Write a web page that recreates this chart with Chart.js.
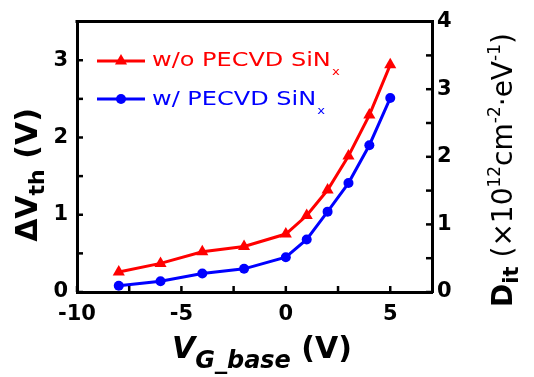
<!DOCTYPE html>
<html><head><meta charset="utf-8">
<script src="https://cdn.jsdelivr.net/npm/chart.js@4.4.0/dist/chart.umd.min.js"></script>
<style>html,body{margin:0;padding:0;background:#fff;overflow:hidden}#wrap{width:534px;height:377px}</style>
</head><body><div id="wrap"><canvas id="c" width="534" height="377"></canvas></div>
<script>
// ---- data ----
const vgBase = [-8, -6, -4, -2, 0, 1, 2, 3, 4, 5];
const dVthWithout = [0.26, 0.37, 0.52, 0.59, 0.75, 0.99, 1.32, 1.76, 2.29, 2.94];
const dVthWith = [0.08, 0.14, 0.24, 0.30, 0.45, 0.68, 1.04, 1.41, 1.90, 2.51];
const seriesNames = ['w/o PECVD SiN', 'w/ PECVD SiN'];
const xTicks = [-10, -5, 0, 5];
const xTickMarks = [-10, -7.5, -5, -2.5, 0, 2.5, 5];
const yTicks = [0, 1, 2, 3];
const yTickMarks = [0, 0.5, 1, 1.5, 2, 2.5, 3, 3.5];
const y2Ticks = [0, 1, 2, 3, 4];
const y2TickMarks = [0, 0.5, 1, 1.5, 2, 2.5, 3, 3.5, 4];

const RED = '#ff0000', BLUE = '#0000ff';
const tickFont = {family: 'DejaVu Sans', size: 21, weight: 'bold'};

function toXY(xs, ys) { return xs.map((x, i) => ({x: x, y: ys[i]})); }

const overlay = {
  id: 'overlay',
  afterDraw(chart) {
    const ctx = chart.ctx, ca = chart.chartArea;
    const sx = chart.scales.x, sy = chart.scales.y, sy2 = chart.scales.y2;
    ctx.save();
    // top frame line
    ctx.strokeStyle = '#000'; ctx.lineWidth = 3;
    ctx.beginPath(); ctx.moveTo(ca.left - 1.5, ca.top); ctx.lineTo(ca.right + 1.5, ca.top); ctx.stroke();
    // inward ticks
    ctx.lineWidth = 2.5;
    const L = 6;
    xTickMarks.forEach(v => { const p = sx.getPixelForValue(v); ctx.beginPath(); ctx.moveTo(p, ca.bottom); ctx.lineTo(p, ca.bottom - L); ctx.stroke(); });
    yTickMarks.forEach(v => { const p = sy.getPixelForValue(v); ctx.beginPath(); ctx.moveTo(ca.left, p); ctx.lineTo(ca.left + L, p); ctx.stroke(); });
    y2TickMarks.forEach(v => { const p = sy2.getPixelForValue(v); ctx.beginPath(); ctx.moveTo(ca.right, p); ctx.lineTo(ca.right - L, p); ctx.stroke(); });

    // legend
    const legend = [
      {name: seriesNames[0], color: RED, style: 'triangle', y: 61, ty: 66},
      {name: seriesNames[1], color: BLUE, style: 'circle', y: 99, ty: 105}
    ];
    legend.forEach(it => {
      ctx.strokeStyle = it.color; ctx.fillStyle = it.color; ctx.lineWidth = 3;
      ctx.beginPath(); ctx.moveTo(97, it.y); ctx.lineTo(145, it.y); ctx.stroke();
      ctx.beginPath();
      if (it.style === 'triangle') {
        const r = 7;
        ctx.moveTo(121, it.y - r);
        ctx.lineTo(121 + r * 0.866, it.y + r * 0.5);
        ctx.lineTo(121 - r * 0.866, it.y + r * 0.5);
        ctx.closePath();
      } else {
        ctx.arc(121, it.y, 5, 0, Math.PI * 2);
      }
      ctx.fill();
      ctx.save();
      ctx.translate(152, it.ty); ctx.scale(1.2, 1);
      ctx.font = '20px "DejaVu Sans"'; ctx.textBaseline = 'alphabetic'; ctx.textAlign = 'left';
      ctx.fillText(it.name, 0, 0);
      const w = ctx.measureText(it.name).width;
      ctx.font = '11px "DejaVu Sans"';
      ctx.fillText('x', w + 1, 9);
      ctx.restore();
    });

    ctx.fillStyle = '#000'; ctx.textBaseline = 'alphabetic'; ctx.textAlign = 'left';
    function drawParts(parts) {
      let total = 0;
      parts.forEach(p => { ctx.font = p.f; p.w = ctx.measureText(p.t).width; total += p.w; });
      let x = -total / 2;
      parts.forEach(p => { ctx.font = p.f; ctx.fillText(p.t, x, p.dy || 0); x += p.w; });
    }
    // left title
    ctx.save(); ctx.translate(37, 175); ctx.rotate(-Math.PI / 2);
    drawParts([
      {t: 'ΔV', f: 'bold 30px "DejaVu Sans"'},
      {t: 'th', f: 'bold 22px "DejaVu Sans"', dy: 7},
      {t: ' (V)', f: 'bold 30px "DejaVu Sans"'}
    ]);
    ctx.restore();
    // right title
    ctx.save(); ctx.translate(512, 170); ctx.rotate(-Math.PI / 2);
    drawParts([
      {t: 'D', f: 'bold 28px "DejaVu Sans"'},
      {t: 'it', f: 'bold 21px "DejaVu Sans"', dy: 6},
      {t: ' (×10', f: '28px "DejaVu Sans"'},
      {t: '12', f: '17px "DejaVu Sans"', dy: -12},
      {t: 'cm', f: '28px "DejaVu Sans"'},
      {t: '-2', f: '17px "DejaVu Sans"', dy: -12},
      {t: '·eV', f: '28px "DejaVu Sans"'},
      {t: '-1', f: '17px "DejaVu Sans"', dy: -12},
      {t: ')', f: '28px "DejaVu Sans"'}
    ]);
    ctx.restore();
    // x title
    ctx.save(); ctx.translate(262, 358);
    drawParts([
      {t: 'V', f: 'italic bold 30px "DejaVu Sans"'},
      {t: 'G_base', f: 'italic bold 24px "DejaVu Sans"', dy: 10},
      {t: ' (V)', f: 'bold 30px "DejaVu Sans"'}
    ]);
    ctx.restore();
    ctx.restore();
  }
};

new Chart(document.getElementById('c'), {
  type: 'line',
  data: {
    datasets: [
      {label: seriesNames[0], data: toXY(vgBase, dVthWithout), borderColor: RED, backgroundColor: RED,
       borderWidth: 3, pointStyle: 'triangle', pointRadius: 7, pointBorderWidth: 0, tension: 0, yAxisID: 'y'},
      {label: seriesNames[1], data: toXY(vgBase, dVthWith), borderColor: BLUE, backgroundColor: BLUE,
       borderWidth: 3, pointStyle: 'circle', pointRadius: 5, pointBorderWidth: 0, tension: 0, yAxisID: 'y'}
    ]
  },
  options: {
    responsive: false, animation: false, devicePixelRatio: 1,
    layout: {padding: {top: 20, left: 0, right: 0, bottom: 0}},
    plugins: {legend: {display: false}, tooltip: {enabled: false}},
    scales: {
      x: {type: 'linear', position: 'bottom', min: -10, max: 7,
          afterBuildTicks: s => { s.ticks = xTicks.map(v => ({value: v})); },
          afterFit: s => { s.height = 85; },
          grid: {display: false, drawTicks: false},
          border: {display: true, color: '#000', width: 3},
          ticks: {font: tickFont, color: '#000', padding: 10, maxRotation: 0, autoSkip: false}},
      y: {type: 'linear', position: 'left', min: 0, max: 3.5,
          afterBuildTicks: s => { s.ticks = yTicks.map(v => ({value: v})); },
          afterFit: s => { s.width = 77; },
          grid: {display: false, drawTicks: false},
          border: {display: true, color: '#000', width: 3},
          ticks: {font: tickFont, color: '#000', padding: 9}},
      y2: {type: 'linear', position: 'right', min: 0, max: 4,
          afterBuildTicks: s => { s.ticks = y2Ticks.map(v => ({value: v})); },
          afterFit: s => { s.width = 102; },
          grid: {display: false, drawTicks: false},
          border: {display: true, color: '#000', width: 3},
          ticks: {font: tickFont, color: '#000', padding: 5}}
    }
  },
  plugins: [overlay]
});
</script></body></html>
